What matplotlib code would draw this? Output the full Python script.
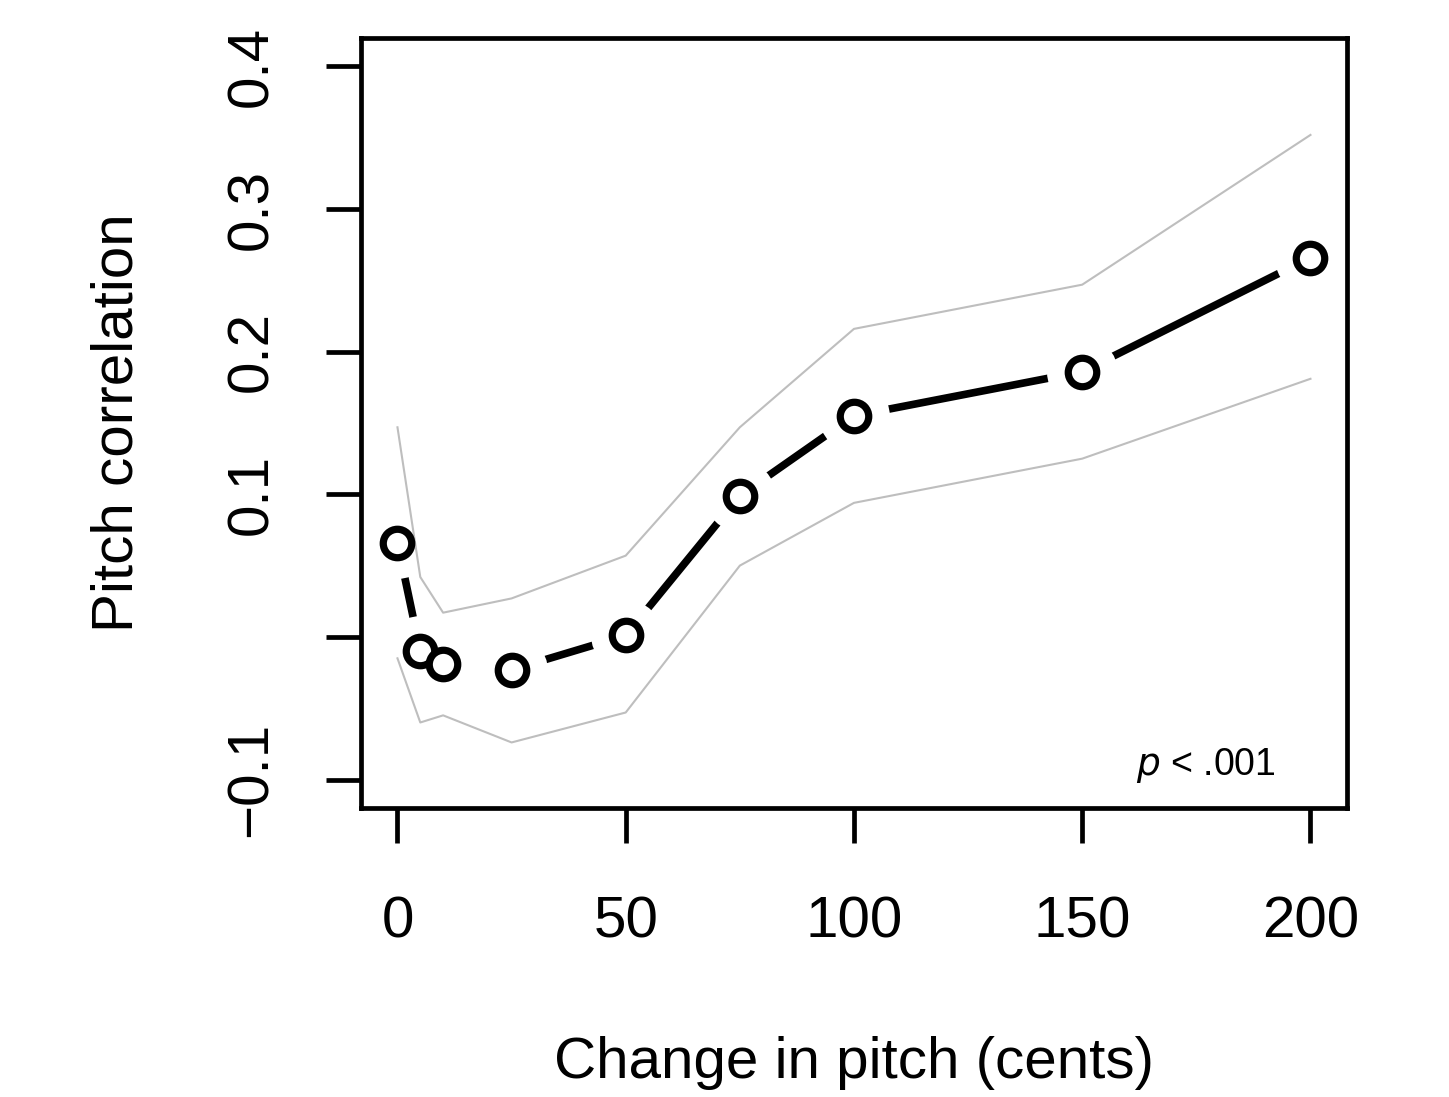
import matplotlib.pyplot as plt

plt.rcParams['font.family'] = ['Liberation Sans', 'DejaVu Sans']

# change in pitch (cents) and pitch correlation with its band
cents = [0, 5, 10, 25, 50, 75, 100, 150, 200]
corr = [0.066, -0.010, -0.019, -0.023, 0.001, 0.099, 0.155, 0.186, 0.266]
upper = [0.147, 0.042, 0.017, 0.027, 0.057, 0.147, 0.216, 0.247, 0.352]
lower = [-0.015, -0.060, -0.055, -0.074, -0.053, 0.050, 0.094, 0.125, 0.181]

xticks = [0, 50, 100, 150, 200]
yticks = [-0.1, 0.0, 0.1, 0.2, 0.3, 0.4]
ylabels = ['\u22120.1', '', '0.1', '0.2', '0.3', '0.4']

fig = plt.figure(figsize=(14.49, 10.97), dpi=100)
ax = fig.add_axes([0.2491, 0.2634, 0.6805, 0.702])

# line with gaps round the points, as in R type="b"
ax.plot(cents, corr, color='black', lw=5.5, zorder=1, solid_capstyle='butt')
ax.plot(cents, corr, 'o', ms=51, mfc='white', mec='none', zorder=2)
ax.plot(cents, upper, color='#bebebe', lw=1.5, zorder=3)
ax.plot(cents, lower, color='#bebebe', lw=1.5, zorder=3)
ax.plot(cents, corr, 'o', ms=20.5, mfc='white', mec='black', mew=5.2, zorder=4)

ax.set_xlim(-8, 208)
ax.set_ylim(-0.12, 0.42)
ax.set_xticks(xticks)
ax.set_xticklabels([str(t) for t in xticks])
ax.set_yticks(yticks)
ax.set_yticklabels(ylabels, rotation=90, va='center')

for s in ax.spines.values():
    s.set_linewidth(3.4)
ax.tick_params(axis='both', direction='out', length=25, width=3.4, labelsize=42)
ax.tick_params(axis='x', pad=38)
ax.tick_params(axis='y', pad=34)

ax.set_xlabel('Change in pitch (cents)', fontsize=42, labelpad=62)
ax.set_ylabel('Pitch correlation', fontsize=42, labelpad=58)

ax.text(177, -0.097, r'$\it{p}$ < .001', fontsize=27, ha='center', va='baseline')

fig.savefig('out.png', dpi=100)
